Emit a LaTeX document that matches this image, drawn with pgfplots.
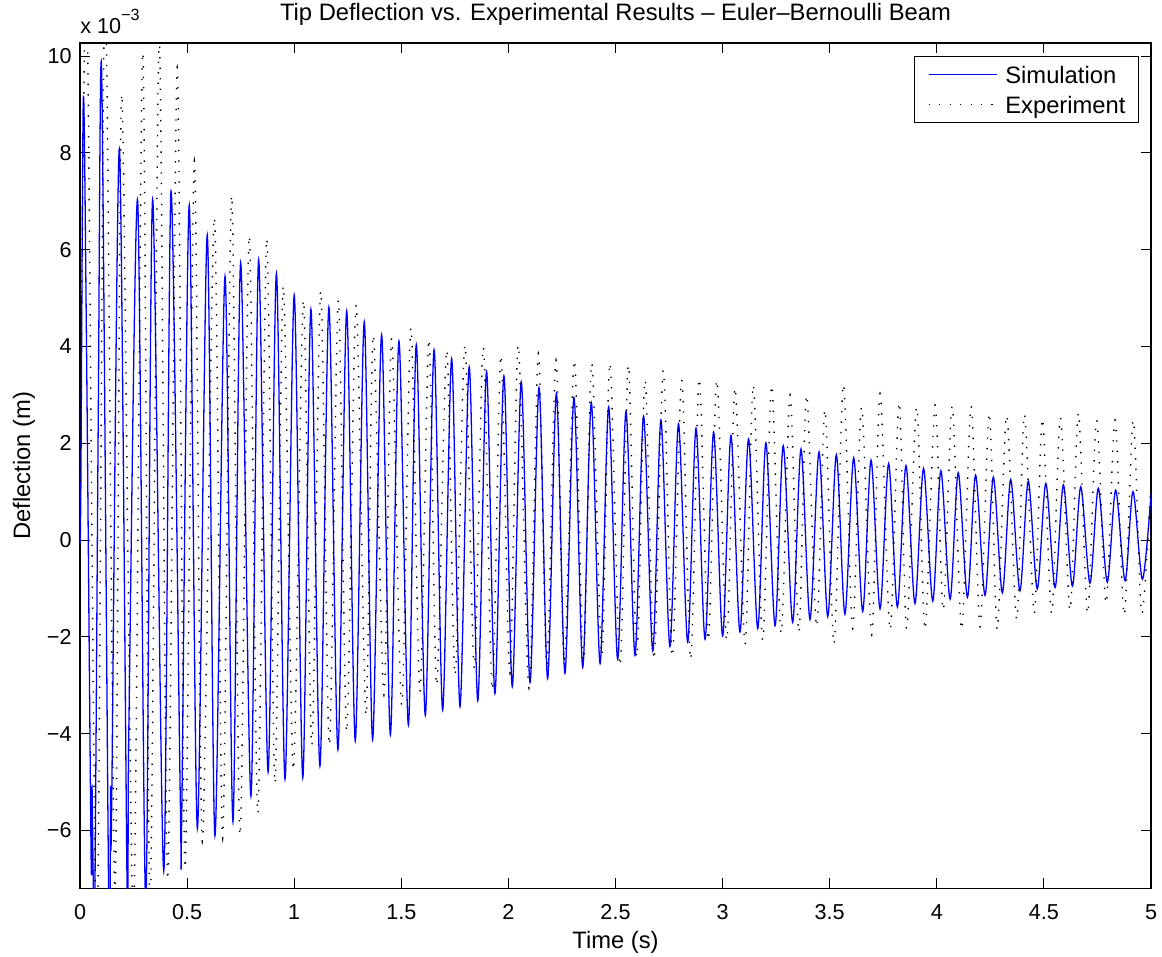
\documentclass[border=0pt]{standalone}
\usepackage{pgfplots}
\pgfplotsset{compat=1.18}
\usepackage{fontspec}
\setmainfont{Liberation Sans}
% values in units of 1e-3 m (axis shows "x 10^-3")
\pgfplotstableread{
t v
0.000 0.00
0.004 1.10
0.0156 9.14
0.030 4.20
0.052 -6.60
0.056 -5.10
0.068 -7.80
0.085 2.40
0.101 9.68
0.135 -7.90
0.143 -5.10
0.147 -5.80
0.184 8.09
0.221 -7.60
0.228 -3.90
0.269 7.02
0.307 -7.50
0.339 7.04
0.391 -6.84
0.425 7.21
0.468 -5.30
0.475 -5.68
0.510 6.92
0.548 -5.96
0.594 6.30
0.630 -6.11
0.677 5.45
0.714 -5.82
0.750 5.73
0.798 -5.29
0.834 5.79
0.878 -4.79
0.917 5.51
0.957 -4.94
1.000 5.06
1.040 -4.91
1.078 4.77
1.120 -4.67
1.162 4.81
1.204 -4.33
1.245 4.73
1.285 -4.15
1.327 4.51
1.366 -4.12
1.408 4.24
1.449 -4.02
1.489 4.11
1.533 -3.82
1.570 4.04
1.612 -3.62
1.653 3.93
1.693 -3.51
1.735 3.75
1.774 -3.44
1.817 3.58
1.857 -3.32
1.898 3.48
1.937 -3.17
1.979 3.39
2.018 -3.03
2.060 3.27
2.101 -2.94
2.143 3.15
2.183 -2.86
2.224 3.03
2.264 -2.75
2.306 2.94
2.347 -2.63
2.387 2.84
2.428 -2.55
2.468 2.75
2.510 -2.46
2.549 2.66
2.591 -2.38
2.631 2.56
2.674 -2.29
2.712 2.48
2.754 -2.20
2.794 2.40
2.837 -2.11
2.876 2.31
2.918 -2.05
2.958 2.23
3.000 -1.98
3.039 2.16
3.081 -1.90
3.121 2.09
3.164 -1.83
3.202 2.01
3.245 -1.77
3.283 1.95
3.327 -1.70
3.366 1.88
3.408 -1.64
3.450 1.82
3.491 -1.58
3.531 1.76
3.571 -1.53
3.612 1.70
3.654 -1.47
3.693 1.65
3.735 -1.42
3.775 1.58
3.816 -1.38
3.856 1.54
3.898 -1.31
3.938 1.48
3.981 -1.26
4.019 1.43
4.062 -1.22
4.100 1.39
4.143 -1.18
4.181 1.34
4.225 -1.14
4.264 1.30
4.306 -1.09
4.345 1.25
4.388 -1.05
4.427 1.22
4.469 -1.01
4.509 1.17
4.552 -0.98
4.591 1.14
4.633 -0.95
4.672 1.10
4.715 -0.89
4.754 1.07
4.796 -0.87
4.835 1.03
4.879 -0.84
4.916 1.00
4.960 -0.81
5.000 0.95
}\simdata
\pgfplotstableread{
t v
0.000 1.00
0.031 11.50
0.078 -8.50
0.117 11.50
0.163 -7.30
0.195 9.22
0.249 -7.80
0.293 10.08
0.327 -7.60
0.370 10.35
0.409 -7.02
0.454 9.77
0.490 -6.78
0.534 7.84
0.571 -6.23
0.627 6.67
0.666 -6.16
0.708 7.12
0.747 -6.10
0.790 6.29
0.830 -5.65
0.872 6.23
0.910 -5.03
0.949 5.25
0.996 -4.75
1.043 4.96
1.082 -4.24
1.124 5.15
1.164 -4.24
1.206 4.96
1.245 -3.96
1.289 4.86
1.335 -3.62
1.369 4.24
1.419 -3.20
1.455 4.17
1.502 -3.41
1.545 4.39
1.587 -3.13
1.629 4.15
1.665 -3.00
1.712 3.93
1.751 -2.79
1.797 4.03
1.841 -2.65
1.883 3.99
1.925 -3.10
1.965 3.82
2.007 -2.75
2.046 4.03
2.096 -3.06
2.140 3.86
2.179 -2.58
2.222 3.72
2.261 -2.51
2.308 3.72
2.350 -2.50
2.389 3.66
2.436 -2.38
2.474 3.66
2.521 -2.60
2.560 3.62
2.599 -2.42
2.638 3.31
2.680 -2.47
2.723 3.51
2.765 -2.41
2.809 3.31
2.851 -2.47
2.891 3.34
2.933 -2.07
2.973 3.31
3.019 -2.07
3.058 3.15
3.105 -2.15
3.143 3.21
3.187 -2.07
3.229 3.20
3.273 -1.93
3.315 3.00
3.356 -1.91
3.392 3.00
3.439 -1.79
3.478 2.70
3.520 -2.15
3.564 3.22
3.607 -1.83
3.649 2.75
3.696 -1.96
3.735 3.03
3.782 -1.86
3.824 2.85
3.859 -1.83
3.906 2.75
3.945 -1.85
3.992 2.79
4.030 -1.45
4.072 2.77
4.116 -1.85
4.160 2.77
4.202 -1.79
4.245 2.63
4.282 -1.85
4.326 2.58
4.373 -1.64
4.409 2.60
4.455 -1.52
4.493 2.51
4.536 -1.52
4.577 2.53
4.622 -1.45
4.661 2.63
4.704 -1.52
4.746 2.48
4.790 -1.31
4.832 2.48
4.875 -1.55
4.917 2.48
4.956 -1.52
5.000 1.20
}\expdata
\begin{document}
\begin{tikzpicture}
\useasboundingbox (-37.04pt,-31.48pt) rectangle (500.89pt,411.11pt);
\begin{axis}[
  at={(0pt,0pt)}, anchor=south west,
  scale only axis, width=495.8pt, height=391.2pt,
  xmin=0, xmax=5, ymin=-7.19, ymax=10.27,
  xtick={0,0.5,1,1.5,2,2.5,3,3.5,4,4.5,5},
  xticklabels={0,0.5,1,1.5,2,2.5,3,3.5,4,4.5,5},
  ytick={-6,-4,-2,0,2,4,6,8,10},
  yticklabels={−6,−4,−2,0,2,4,6,8,10},
  minor tick num=0,
  tick align=inside, major tick length=4.63pt,
  every tick/.style={black, line width=0.5pt},
  axis line style={black, line width=0.5pt},
  ticklabel style={font=\fontsize{10}{12}\selectfont},
  xticklabel style={anchor=base, yshift=-14.35pt, inner sep=0pt},
  yticklabel style={anchor=east, inner sep=0pt, xshift=-3.7pt},
  title={Tip Deflection vs. Experimental Results – Euler–Bernoulli Beam},
  every axis title/.style={at={(axis description cs:0.5,1)}, anchor=base, yshift=10.2pt, inner sep=0pt, font=\fontsize{11}{13}\selectfont},
  xlabel={Time (s)},
  every axis x label/.style={at={(axis description cs:0.5,0)}, anchor=base, yshift=-27.8pt, inner sep=0pt, font=\fontsize{11}{13}\selectfont},
  ylabel={Deflection (m)},
  every axis y label/.style={at={(axis description cs:-0.0466,0.5)}, rotate=90, anchor=base, inner sep=0pt, font=\fontsize{11}{13}\selectfont},
  legend cell align=left,
  legend style={at={(axis description cs:0.9888,0.9846)}, anchor=north east, draw=black, line width=0.5pt, fill=white,
    inner xsep=6pt, inner ysep=1.4pt, font=\fontsize{11}{13}\selectfont,
    nodes={inner xsep=0pt, inner ysep=0pt, text height=11.15pt, text depth=2.75pt},
    /tikz/every odd column/.append style={column sep=3.7pt}},
  legend image code/.code={\draw[#1] (0pt,0pt) -- (31.5pt,0pt);},
  after end axis/.code={
    \node[anchor=base west, inner sep=0pt, font=\fontsize{10}{12}\selectfont] at ([yshift=4.5pt]rel axis cs:0,1) {x 10\raisebox{6pt}{\fontsize{7.5}{9}\selectfont −3}};
  },
]
\addplot[color={rgb,255:red,0;green,0;blue,255}, line width=0.6pt, smooth] table[x=t,y=v] {\simdata};
\addlegendentry{Simulation}
\addplot[color=black, line width=0.65pt, dash pattern=on 0.65pt off 4.2pt, smooth] table[x=t,y=v] {\expdata};
\addlegendentry{Experiment}
\end{axis}
\end{tikzpicture}
\end{document}
